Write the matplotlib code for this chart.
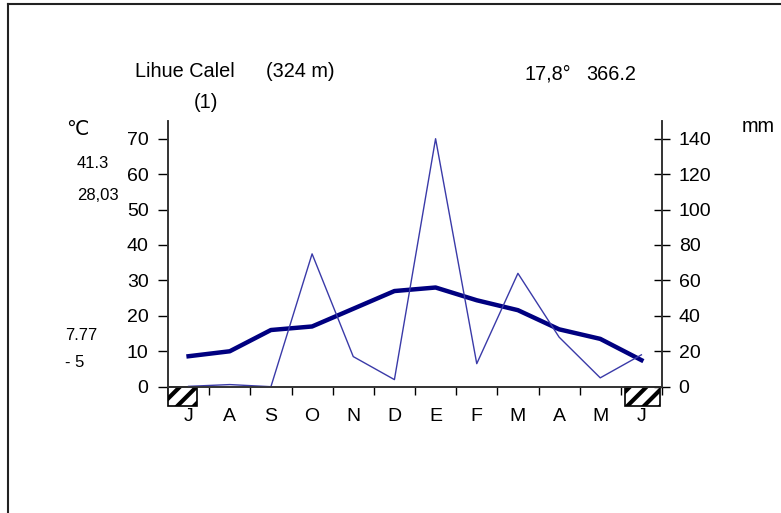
import matplotlib
matplotlib.use("Agg")
from matplotlib import pyplot as plt
from matplotlib.patches import Rectangle
import numpy as np

plt.rcParams['font.family'] = ['Liberation Sans', 'DejaVu Sans']
plt.rcParams['hatch.linewidth'] = 3.0

# climate diagram data (Jul..Jun)
months = ["J", "A", "S", "O", "N", "D", "E", "F", "M", "A", "M", "J"]
temp = [8.6, 10.0, 16.0, 17.0, 22.0, 27.0, 28.0, 24.4, 21.6, 16.2, 13.5, 7.5]
precip = [0.2, 1.2, 0.0, 75.0, 17.0, 4.0, 140.0, 13.0, 64.0, 28.0, 5.0, 18.0]
frost_spans = [(-0.5, 0.2), (10.6, 11.45)]

W, H = 781, 513
fig = plt.figure(figsize=(W / 100, H / 100), dpi=100)

def px(x, y):
    return x / W, 1 - y / H

ax = fig.add_axes([168 / W, 1 - 386.7 / H, (662 - 168) / W, (386.7 - 121) / H])
ax2 = ax.twinx()

x = np.arange(len(months))
ax.plot(x, temp, color="#000080", lw=3.2, solid_joinstyle="round", zorder=3)
ax2.plot(x, precip, color="#3a3aa8", lw=1.0, zorder=2)

ax.set_xlim(-0.5, 11.5)
ax.set_ylim(0, 75)
ax2.set_ylim(0, 150)
ax.set_yticks(np.arange(0, 71, 10))
ax2.set_yticks(np.arange(0, 141, 20))

ax.set_xticks(np.arange(-0.5, 11.6, 1))
ax.set_xticklabels([])
ax.set_xticks(x, minor=True)
ax.set_xticklabels(months, minor=True)
ax.tick_params(axis="x", which="major", direction="out", length=6, width=1)
ax.tick_params(axis="x", which="minor", length=0, pad=15, labelsize=14)
ax.tick_params(axis="y", direction="out", length=7, width=1, pad=7, labelsize=14)
ax2.tick_params(axis="y", direction="inout", length=12, width=1, pad=6, labelsize=14)

for a in (ax, ax2):
    a.spines["top"].set_visible(False)
    for s in ("left", "right", "bottom"):
        a.spines[s].set_linewidth(1.2)
        a.spines[s].set_color("#333333")
    a.set_facecolor("none")

# frost months
for x0, x1 in frost_spans:
    ax.add_patch(Rectangle((x0, -5.4), x1 - x0, 5.4, facecolor="white", edgecolor="black",
                           hatch="//", lw=1.2, clip_on=False, zorder=4))

# outer frame (left and top only)
fig.add_artist(plt.Line2D([8 / W, 8 / W], [0, 1 - 4 / H], color="#222222", lw=1.5))
fig.add_artist(plt.Line2D([8 / W, 1], [1 - 4 / H, 1 - 4 / H], color="#222222", lw=1.5))

fig.text(*px(135, 77.3), "Lihue Calel", fontsize=14.3, va="baseline")
fig.text(*px(266, 77.3), "(324 m)", fontsize=14.3, va="baseline")
fig.text(*px(206, 107.5), "(1)", fontsize=14.3, va="baseline", ha="center")
fig.text(*px(525, 80), "17,8°", fontsize=14.3, va="baseline")
fig.text(*px(586, 80), "366.2", fontsize=14.3, va="baseline")
fig.text(*px(742, 131.7), "mm", fontsize=14.3, va="baseline")
fig.text(*px(66, 135), "℃", fontsize=14.3, va="baseline")
fig.text(*px(77, 168), "41.3", fontsize=12, va="baseline")
fig.text(*px(77, 200), "28,03", fontsize=12, va="baseline")
fig.text(*px(65, 340), "7.77", fontsize=12, va="baseline")
fig.text(*px(65, 366.7), "- 5", fontsize=12, va="baseline")

fig.savefig("out.png", dpi=100)
